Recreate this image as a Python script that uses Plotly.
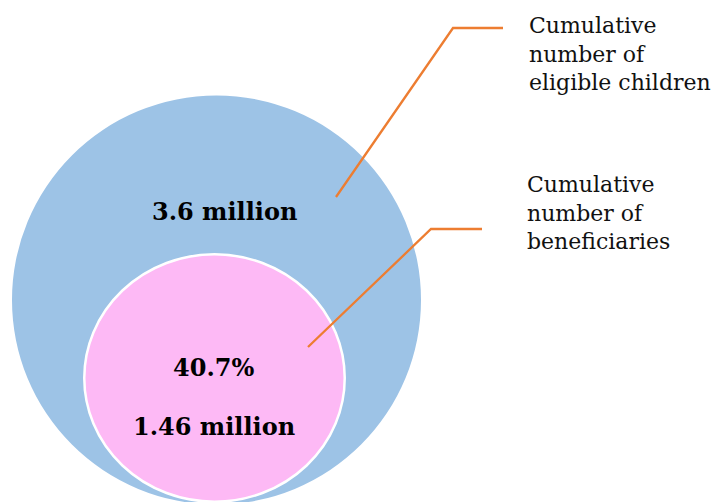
import math
import plotly.graph_objects as go

# Cumulative totals (millions) and the coverage share
groups = ["Cumulative number of eligible children", "Cumulative number of beneficiaries"]
values_m = [3.6, 1.46]
share_pct = [40.7]
value_labels = ["3.6 million", "1.46 million"]
legend_labels = ["Cumulative<br>number of<br>eligible children",
                 "Cumulative<br>number of<br>beneficiaries"]

W, H = 711, 502
BLUE = "#9DC3E6"
PINK = "#FDB9F5"
ORANGE = "#ED7D31"
SERIF = "DejaVu Serif"

# Outer circle size; the inner circle is scaled so that area tracks value
R_outer = 204.5
R_inner = R_outer * math.sqrt(values_m[1] / values_m[0])
outer_c = (216.5, 300.0)
inner_c = (214.5, 378.0)
inner_squash = 0.95

fig = go.Figure()

fig.add_shape(type="circle", xref="x", yref="y",
              x0=outer_c[0] - R_outer, x1=outer_c[0] + R_outer,
              y0=outer_c[1] - R_outer, y1=outer_c[1] + R_outer,
              fillcolor=BLUE, line=dict(width=0), layer="below")
fig.add_shape(type="circle", xref="x", yref="y",
              x0=inner_c[0] - R_inner, x1=inner_c[0] + R_inner,
              y0=inner_c[1] - R_inner * inner_squash, y1=inner_c[1] + R_inner * inner_squash,
              fillcolor=PINK, line=dict(color="white", width=2.5), layer="below")

# Leader lines from each circle out to its label
leaders = [
    [(336, 197), (453, 28), (503, 28)],
    [(308, 347), (431, 229), (482, 229)],
]
for pts in leaders:
    fig.add_trace(go.Scatter(x=[p[0] for p in pts], y=[p[1] for p in pts],
                             mode="lines", line=dict(color=ORANGE, width=2.3),
                             hoverinfo="skip", showlegend=False))

bold = dict(family=SERIF, size=24, color="black")
fig.add_annotation(x=224, y=211, text="<b>%s</b>" % value_labels[0],
                   showarrow=False, font=bold, xanchor="center", yanchor="middle")
fig.add_annotation(x=213, y=367, text="<b>%.1f%%</b>" % share_pct[0],
                   showarrow=False, font=bold, xanchor="center", yanchor="middle")
fig.add_annotation(x=213.5, y=426, text="<b>%s</b>" % value_labels[1],
                   showarrow=False, font=bold, xanchor="center", yanchor="middle")

reg = dict(family=SERIF, size=22, color="#111111")
fig.add_annotation(x=527, y=54, text=legend_labels[0], showarrow=False, font=reg,
                   xanchor="left", yanchor="middle", align="left")
fig.add_annotation(x=525, y=213, text=legend_labels[1], showarrow=False, font=reg,
                   xanchor="left", yanchor="middle", align="left")

fig.update_layout(
    width=W, height=H,
    margin=dict(l=0, r=0, t=0, b=0),
    paper_bgcolor="white", plot_bgcolor="white",
    xaxis=dict(range=[0, W], visible=False, fixedrange=True),
    yaxis=dict(range=[H, 0], visible=False, fixedrange=True),
    showlegend=False,
)

fig.write_html("out.html")
